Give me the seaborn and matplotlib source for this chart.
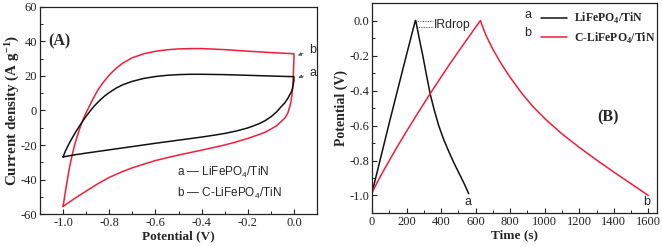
import numpy as np
import pandas as pd
import matplotlib
matplotlib.use("Agg")
import matplotlib.pyplot as plt
import seaborn as sns

# ---------------- data (A): cyclic voltammetry ----------------
a_cv_v = [-1.0, -0.99, -0.98, -0.97, -0.96, -0.95, -0.94, -0.93, -0.92, -0.91, -0.9, -0.88, -0.86, -0.84, -0.82,
          -0.8, -0.77, -0.74, -0.7, -0.65, -0.6, -0.55, -0.5, -0.45, -0.4, -0.3, -0.2, -0.1, 0.0,
          0.0, -0.003, -0.006, -0.012, -0.02, -0.027, -0.04, -0.056, -0.075, -0.1, -0.125, -0.15, -0.175, -0.2,
          -0.25, -0.3, -0.35, -0.4, -0.5, -0.6, -0.7, -0.8, -0.9, -0.95, -1.0]
a_cv_i = [-26.9, -23.5, -20.8, -18.2, -15.8, -13.5, -11.3, -9.2, -7.2, -5.2, -3.3, 0.2, 3.3, 6.0, 8.4,
          10.4, 13.0, 15.0, 16.9, 18.6, 19.7, 20.4, 20.8, 21.0, 21.0, 20.8, 20.4, 20.0, 19.6,
          17.5, 15.0, 12.7, 10.5, 8.7, 6.9, 4.3, 2.1, -0.8, -3.7, -5.9, -7.6, -8.9, -10.1,
          -11.9, -13.3, -14.4, -15.4, -17.2, -19.0, -20.9, -22.8, -24.7, -25.7, -26.9]
b_cv_v = [-1.0, -0.99, -0.98, -0.97, -0.96, -0.95, -0.94, -0.93, -0.92, -0.91, -0.9, -0.89, -0.87, -0.85, -0.83,
          -0.8, -0.77, -0.74, -0.7, -0.65, -0.6, -0.55, -0.5, -0.45, -0.4, -0.3, -0.2, -0.1, 0.0,
          0.0, -0.001, -0.003, -0.006, -0.009, -0.013, -0.02, -0.027, -0.04, -0.056, -0.075, -0.1, -0.125, -0.157,
          -0.2, -0.25, -0.3, -0.4, -0.5, -0.6, -0.7, -0.75, -0.8, -0.85, -0.9, -0.95, -1.0]
b_cv_i = [-55.6, -47.0, -39.0, -31.5, -25.5, -20.0, -15.5, -11.3, -7.5, -4.2, -1.2, 1.5, 6.8, 11.7, 15.6,
          20.6, 24.5, 27.6, 30.6, 32.9, 34.3, 35.2, 35.7, 35.9, 35.9, 35.3, 34.4, 33.6, 32.9,
          30.0, 26.0, 19.0, 12.7, 8.5, 5.0, 1.3, -1.7, -4.5, -6.5, -8.8, -10.8, -12.6, -14.2,
          -16.2, -18.2, -20.0, -23.0, -25.8, -29.0, -33.2, -35.8, -38.8, -42.5, -46.7, -51.0, -55.6]

# ---------------- data (B): galvanostatic charge/discharge ----------------
a_gcd_t = [0, 50, 100, 150, 200, 251, 253, 262, 275, 294, 315, 338, 360, 386, 415, 445, 475, 505, 535, 560]
a_gcd_v = [-0.985, -0.785, -0.585, -0.39, -0.195, 0.0, 0.0, -0.045, -0.11, -0.2, -0.31, -0.425, -0.51, -0.6,
           -0.68, -0.75, -0.815, -0.875, -0.935, -0.99]
b_gcd_t = [0, 25, 50, 100, 150, 200, 250, 300, 350, 400, 450, 500, 550, 600, 628,
           640, 660, 700, 750, 800, 870, 935, 1000, 1100, 1200, 1300, 1400, 1500, 1600]
b_gcd_v = [-0.985, -0.935, -0.888, -0.8, -0.715, -0.633, -0.553, -0.475, -0.398, -0.323, -0.249, -0.178, -0.108,
           -0.038, 0.0,
           -0.035, -0.085, -0.165, -0.25, -0.325, -0.42, -0.495, -0.56, -0.648, -0.725, -0.797, -0.866, -0.933, -1.0]

labels = ["LiFePO$_\\mathbf{4}$/TiN", "C-LiFePO$_\\mathbf{4}$/TiN"]
x_ticks_a = [-1.0, -0.8, -0.6, -0.4, -0.2, 0.0]
y_ticks_a = [-60, -40, -20, 0, 20, 40, 60]
x_ticks_b = [0, 200, 400, 600, 800, 1000, 1200, 1400, 1600]
y_ticks_b = [-1.0, -0.8, -0.6, -0.4, -0.2, 0.0]

RED = "#f41c3a"
BLACK = "#111111"

sns.set_theme(style="ticks")
plt.rcParams.update({
    "font.family": ["Liberation Serif", "DejaVu Serif"],
    "axes.unicode_minus": False,
    "mathtext.fontset": "custom",
    "mathtext.rm": "Liberation Sans",
    "mathtext.bf": "Liberation Serif:bold",
    "mathtext.it": "Liberation Sans:italic",
    "axes.edgecolor": "#222222",
    "axes.linewidth": 0.9,
    "xtick.direction": "in",
    "ytick.direction": "in",
    "xtick.color": "#222222",
    "ytick.color": "#222222",
    "xtick.labelsize": 9,
    "ytick.labelsize": 9,
    "lines.solid_joinstyle": "round",
})

W, H = 662, 247
fig = plt.figure(figsize=(W / 100, H / 100), dpi=100)
axA = fig.add_axes([40 / W, (H - 214) / H, 277 / W, 207 / H])
axB = fig.add_axes([372 / W, (H - 213) / H, 285 / W, 210 / H])

# ---------- panel A ----------
dfa = pd.DataFrame({"v": a_cv_v, "i": a_cv_i})
dfb = pd.DataFrame({"v": b_cv_v, "i": b_cv_i})
sns.lineplot(data=dfb, x="v", y="i", sort=False, estimator=None, color=RED, lw=1.1, ax=axA)
sns.lineplot(data=dfa, x="v", y="i", sort=False, estimator=None, color=BLACK, lw=1.1, ax=axA)
axA.set_xlim(-1.1, 0.1)
axA.set_ylim(-60, 60)
axA.set_xticks(x_ticks_a)
axA.set_xticklabels([f"{v:.1f}" for v in x_ticks_a])
axA.set_yticks(y_ticks_a)
axA.set_xticks(np.arange(-1.1, 0.11, 0.1), minor=True)
axA.set_yticks(np.arange(-60, 61, 10), minor=True)
axA.set_xlabel("Potential (V)", fontsize=9.5, fontweight="bold", labelpad=1)
axA.set_ylabel("Current density (A g$^{\\mathbf{-1}}$)", fontsize=10.8, fontweight="bold", labelpad=0)
axA.text(-1.065, 40.3, "(A)", fontsize=11.5, fontweight="bold", va="center", ha="left")
sans = ["Liberation Sans", "DejaVu Sans"]
axA.text(-0.505, -36.2, "a — LiFePO$_\\mathrm{4}$/TiN", family=sans, fontsize=8.5, va="center", ha="left")
axA.text(-0.505, -47.8, "b — C-LiFePO$_\\mathrm{4}$/TiN", family=sans, fontsize=8.5, va="center", ha="left")
arrow = dict(arrowstyle="-|>", color="#555555", lw=0.6, mutation_scale=5)
axA.annotate("b", xy=(0.006, 31.4), xytext=(0.065, 35.1), family=sans, fontsize=9, va="center", ha="left",
             arrowprops=arrow, annotation_clip=False)
axA.annotate("a", xy=(0.008, 18.5), xytext=(0.067, 21.9), family=sans, fontsize=9, va="center", ha="left",
             arrowprops=arrow, annotation_clip=False)

# ---------- panel B ----------
dga = pd.DataFrame({"t": a_gcd_t, "v": a_gcd_v, "s": labels[0]})
dgb = pd.DataFrame({"t": b_gcd_t, "v": b_gcd_v, "s": labels[1]})
dg = pd.concat([dga, dgb], ignore_index=True)
sns.lineplot(data=dg, x="t", y="v", hue="s", palette=[BLACK, RED], sort=False, estimator=None,
             lw=1.1, ax=axB)
axB.set_xlim(0, 1650)
axB.set_ylim(-1.1, 0.1)
axB.set_xticks(x_ticks_b)
axB.set_yticks(y_ticks_b)
axB.set_yticklabels([f"{v:.1f}" for v in y_ticks_b])
axB.set_xticks(np.arange(0, 1651, 100), minor=True)
axB.set_yticks(np.arange(-1.1, 0.11, 0.1), minor=True)
axB.set_xlabel("Time (s)", fontsize=9.5, fontweight="bold", labelpad=1)
axB.set_ylabel("Potential (V)", fontsize=10, fontweight="bold", labelpad=1)
leg = axB.legend(loc="upper left", bbox_to_anchor=(0.565, 1.0), frameon=False, title=None,
                 prop={"family": ["Liberation Serif"], "weight": "bold", "size": 8.5},
                 handlelength=2.2, handletextpad=0.6, labelspacing=0.35, borderaxespad=0.3)
for lh in leg.get_lines():
    lh.set_linewidth(1.1)
axB.text(0.56, 0.943, "a", transform=axB.transAxes, family=sans, fontsize=9, va="center", ha="right")
axB.text(0.56, 0.857, "b", transform=axB.transAxes, family=sans, fontsize=9, va="center", ha="right")
axB.text(556, -1.035, "a", family=sans, fontsize=9, va="center", ha="center")
axB.text(1588, -1.035, "b", family=sans, fontsize=9, va="center", ha="center")
axB.text(358, -0.026, "IRdrop", family=sans, fontsize=8.8, va="center", ha="left")
axB.hlines([0.0, -0.035], [255, 262], [352, 352], colors="#333333", linestyles=(0, (1, 1)), lw=0.6)
axB.text(1304, -0.551, "(B)", fontsize=11.5, fontweight="bold", va="center", ha="left")

for ax in (axA, axB):
    ax.tick_params(which="major", length=3.5, width=0.8, pad=2, top=False, right=False)
    ax.tick_params(which="minor", length=2, width=0.7, top=False, right=False)
    for s in ax.spines.values():
        s.set_visible(True)

fig.savefig("out.png", dpi=100)
